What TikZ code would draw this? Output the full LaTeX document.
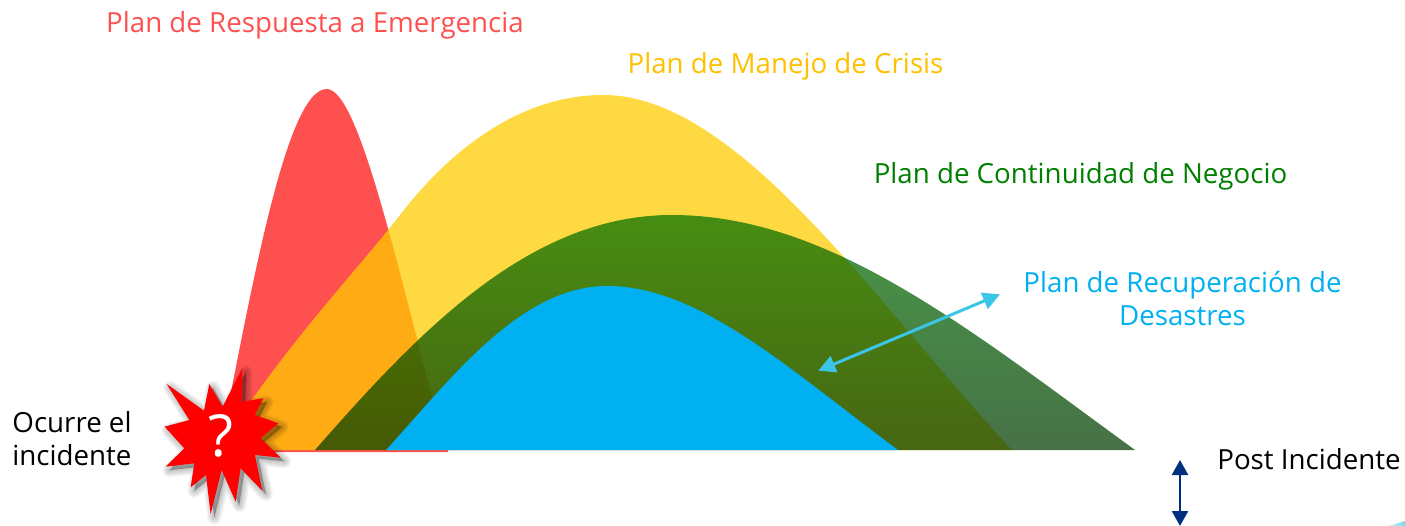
\documentclass[tikz,border=0pt]{standalone}
\usepackage{fontspec}
\setmainfont{Open Sans}
\usetikzlibrary{arrows.meta}
\definecolor{cRed}{HTML}{FF5050}
\definecolor{cYel}{HTML}{FFCC00}
\definecolor{tYel}{HTML}{FFC000}
\definecolor{cBlue}{HTML}{00B0F0}
\definecolor{tGreen}{HTML}{008000}
\definecolor{cArrow}{HTML}{3BC5E8}
\definecolor{cNavy}{HTML}{002E80}
\definecolor{gTop}{RGB}{0,112,0}
\definecolor{gBot}{RGB}{0,58,0}
\tikzset{
  lbl/.style={font=\fontsize{27.7}{33}\selectfont, align=center, inner sep=0pt},
}
\newcommand{\burstpath}{(500,132) -- (612,212) -- (628,132) -- (668,200) -- (727,85) -- (725,185) -- (790,175) -- (765,225) -- (835,250) -- (782,295) -- (842,353) -- (765,345) -- (787,452) -- (722,385) -- (707,485) -- (665,390) -- (632,522) -- (618,405) -- (572,442) -- (583,370) -- (497,380) -- (553,325) -- (494,260) -- (568,240) -- cycle}
\begin{document}
\begin{tikzpicture}[x=1pt,y=-1pt]
\useasboundingbox (0,0) rectangle (1405,526);
\clip (0,0) rectangle (1405,526);
% red bell with its base line
\fill[cRed] (219,452) .. controls (250,300) and (285,89) .. (326.7,89)
  .. controls (360,89) and (400,280) .. (446,450) -- (448,450) -- (448,452) -- cycle;
% yellow bell
\fill[cYel,fill opacity=.74] (218,450) .. controls (285,345) and (355,273) .. (400,215)
  .. controls (450,150) and (520,95) .. (603.3,95)
  .. controls (740,95) and (880,310) .. (1012,450) -- cycle;
% green bell
\shade[top color=gTop,bottom color=gBot,fill opacity=.72]
  (315,450) .. controls (420,330) and (530,215) .. (672,215)
  .. controls (830,215) and (970,330) .. (1135,450) -- cycle;
% blue bell
\fill[cBlue] (386,450) .. controls (450,380) and (520,286) .. (607,286)
  .. controls (700,286) and (790,370) .. (898,450) -- cycle;
% burst
\begin{scope}[shift={(0,340)},x=0.3333pt,y=-0.3333pt]
  \foreach \w in {14,12,10,8,6,4,2}
    \draw[black,draw opacity=.035,line width=\w pt,line join=round,shift={(11,11)}] \burstpath;
  \fill[black,fill opacity=.3,shift={(11,11)}] \burstpath;
  \fill[red] \burstpath;
  \node[font=\fontsize{58}{58}\selectfont,text=white,inner sep=0pt] (q) at (664,287) {?};
\end{scope}
% labels
\node[lbl,text=cRed] (t1) at (315,25) {Plan de Respuesta a Emergencia};
\node[lbl,text=tYel] (t2) at (785.5,66) {Plan de Manejo de Crisis};
\node[lbl,text=tGreen] (t3) at (1080.5,176) {Plan de Continuidad de Negocio};
\node[lbl,text=cBlue] (t4) at (1182.5,299) {Plan de Recuperación de\\Desastres};
\node[lbl,text=black] (t5) at (72,439) {Ocurre el\\incidente};
\node[lbl,text=black] (t6) at (1309,459) {Post Incidente};
% arrows
\coordinate (a1) at (818.3,370.7);
\coordinate (a2) at (1000,294.3);
\draw[cArrow,line width=3pt,{Triangle[length=17pt,width=17pt]}-{Triangle[length=17pt,width=17pt]}] (a1) -- (a2);
\coordinate (b1) at (1180,460);
\coordinate (b2) at (1180,526);
\draw[cNavy,line width=2.5pt,{Triangle[length=15pt,width=16pt]}-{Triangle[length=15pt,width=16pt]}] (b1) -- (b2);
% corner sliver
\shade[left color=cArrow!20,right color=cArrow!70] (1388,526) -- (1405,521) -- (1405,526) -- cycle;
\end{tikzpicture}
\end{document}
